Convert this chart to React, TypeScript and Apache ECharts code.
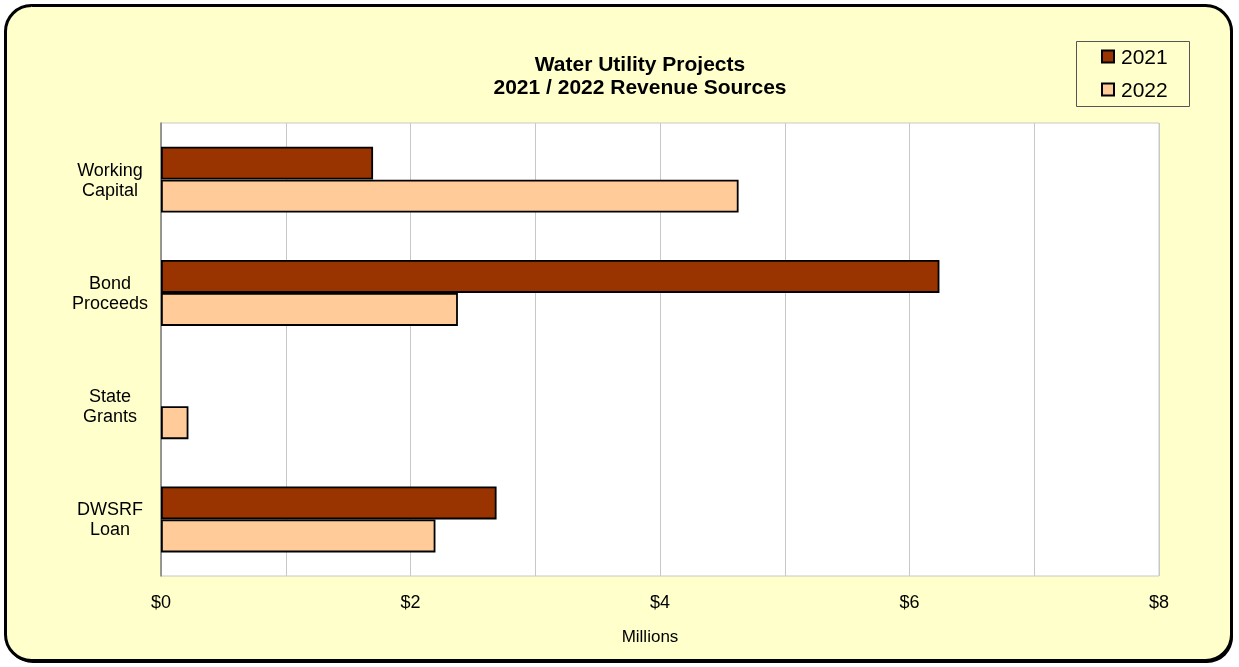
import React, { useEffect, useRef } from "react";
import * as echarts from "echarts";

const categories = ["Working\nCapital", "Bond\nProceeds", "State\nGrants", "DWSRF\nLoan"];
const values2021 = [1.7, 6.24, 0, 2.69];
const values2022 = [4.63, 2.38, 0.22, 2.2];
const seriesNames = ["2021", "2022"];
const xTickLabels: Record<number, string> = { 0: "$0", 2: "$2", 4: "$4", 6: "$6", 8: "$8" };
const titleLines = ["Water Utility Projects", "2021 / 2022 Revenue Sources"];
const xAxisName = "Millions";

const FONT = "'Liberation Sans', Arial, sans-serif";

export default function App() {
  const ref = useRef<HTMLDivElement>(null);
  useEffect(() => {
    if (!ref.current) return;
    const chart = echarts.init(ref.current, null, { renderer: "svg" });
    const toData = (arr: number[]) => arr.map((v) => (v === 0 ? null : v));
    chart.setOption({
      animation: false,
      backgroundColor: "transparent",
      graphic: [
        {
          type: "rect",
          z: -10,
          shape: { x: 7, y: 7, width: 1226, height: 656, r: 26 },
          style: { fill: "#000" },
          silent: true,
        },
        {
          type: "rect",
          z: -9,
          shape: { x: 5.5, y: 5.5, width: 1226, height: 655, r: 26 },
          style: { fill: "#FFFFCC", stroke: "#000", lineWidth: 3 },
          silent: true,
        },
        {
          type: "rect",
          z: -8,
          shape: { x: 1076.5, y: 41.5, width: 113, height: 65 },
          style: { fill: "#FFFFCC", stroke: "#555", lineWidth: 1 },
          silent: true,
        },
      ],
      title: {
        text: titleLines.join("\n"),
        left: 640,
        top: 52,
        textAlign: "center",
        padding: 0,
        textStyle: {
          fontFamily: FONT,
          fontSize: 21,
          fontWeight: "bold",
          lineHeight: 23,
          color: "#000",
        },
      },
      legend: {
        orient: "vertical",
        left: 1101,
        top: 46,
        padding: 0,
        itemGap: 12,
        itemWidth: 12,
        itemHeight: 12,
        icon: "rect",
        data: seriesNames,
        textStyle: { fontFamily: FONT, fontSize: 21, color: "#000", padding: [0, 0, 0, 2] },
      },
      grid: {
        left: 161,
        top: 123,
        right: 80,
        bottom: 91,
        show: true,
        backgroundColor: "#fff",
        borderColor: "#c8c8c8",
        borderWidth: 1,
        containLabel: false,
      },
      xAxis: {
        type: "value",
        min: 0,
        max: 8,
        interval: 1,
        name: xAxisName,
        nameLocation: "middle",
        nameGap: 52,
        nameTextStyle: { fontFamily: FONT, fontSize: 17, color: "#000", padding: [0, 20, 0, 0] },
        axisLine: { show: false },
        axisTick: { show: false },
        axisLabel: {
          margin: 17,
          fontFamily: FONT,
          fontSize: 18,
          color: "#000",
          formatter: (v: number) => xTickLabels[v] ?? "",
        },
        splitLine: { show: true, lineStyle: { color: "#c8c8c8", width: 1 } },
      },
      yAxis: {
        type: "category",
        data: categories,
        inverse: true,
        axisLine: { show: true, lineStyle: { color: "#808080", width: 1.5 } },
        axisTick: { show: false },
        axisLabel: {
          align: "center",
          margin: 51,
          fontFamily: FONT,
          fontSize: 18,
          lineHeight: 20,
          color: "#000",
        },
        splitLine: { show: false },
      },
      series: [
        {
          name: seriesNames[0],
          type: "bar",
          data: toData(values2021),
          barWidth: 33,
          barGap: "0%",
          itemStyle: { color: "#993300", borderColor: "#000", borderWidth: 1.8 },
        },
        {
          name: seriesNames[1],
          type: "bar",
          data: toData(values2022),
          barWidth: 33,
          barGap: "0%",
          itemStyle: { color: "#FFCC99", borderColor: "#000", borderWidth: 1.8 },
        },
      ],
    });
    return () => chart.dispose();
  }, []);
  return (
    <div
      ref={ref}
      style={{ position: "fixed", left: 0, top: 0, width: 1239, height: 667 }}
    />
  );
}
